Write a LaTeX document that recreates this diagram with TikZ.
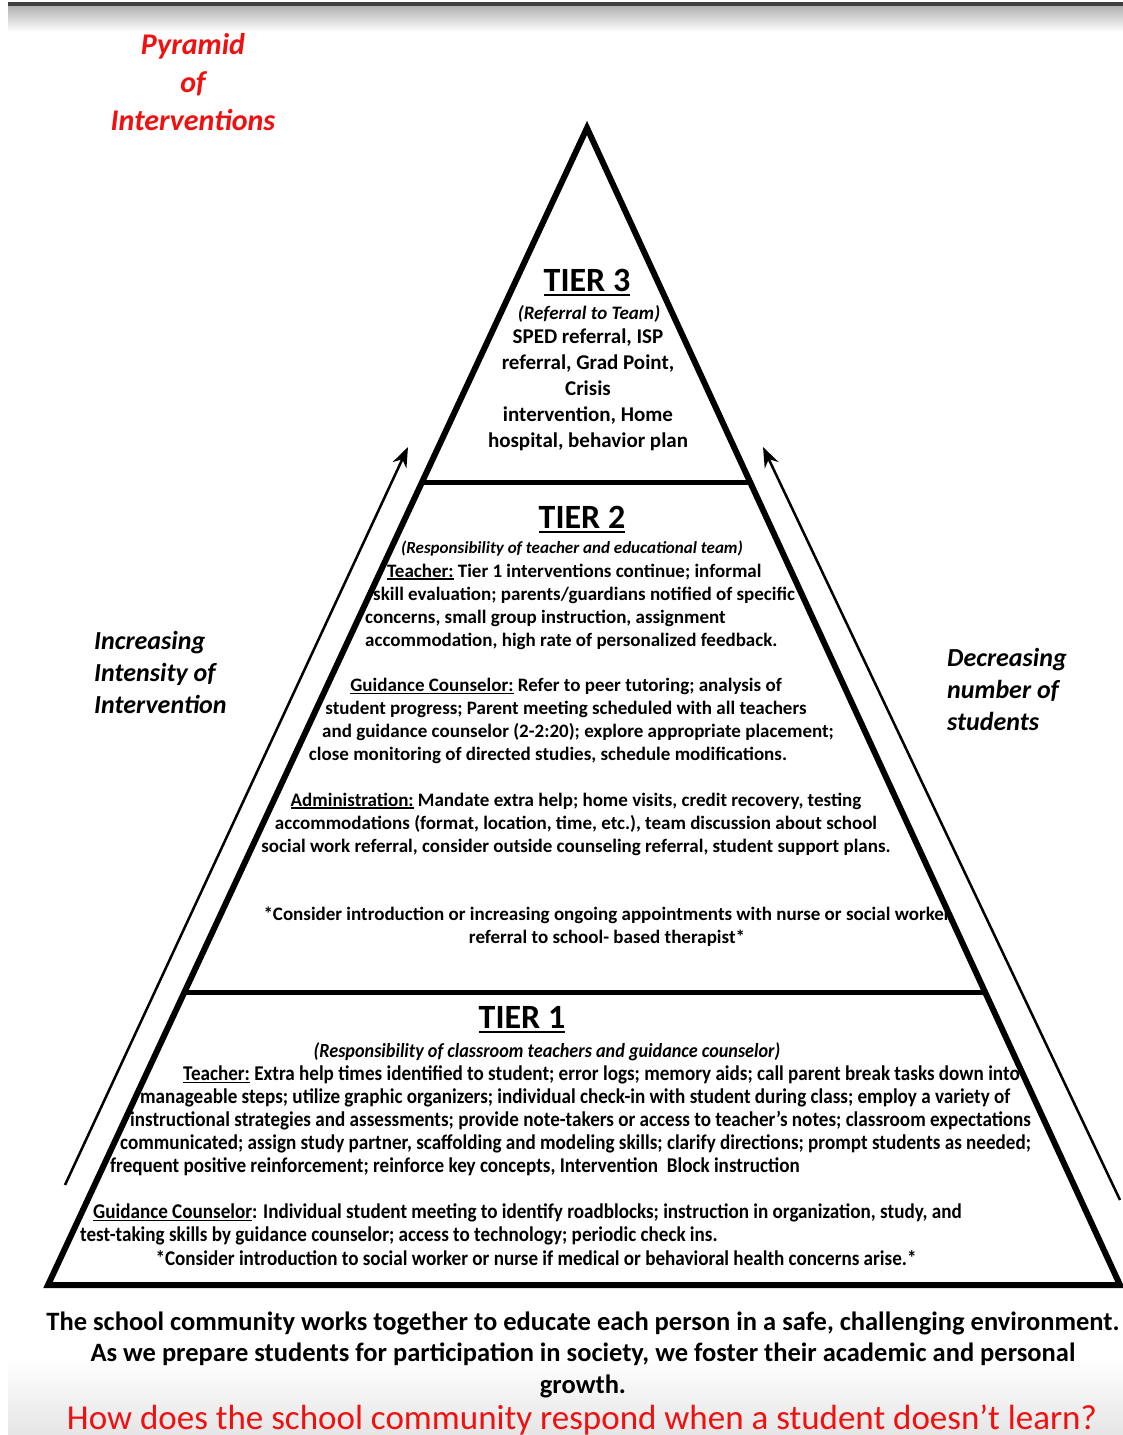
\documentclass[tikz,border=0pt]{standalone}
\usepackage{fontspec}
\setmainfont{Carlito}
\newfontfamily\narrowfont[FakeStretch=0.91]{Carlito}
\usetikzlibrary{arrows.meta,calc}
\definecolor{titlered}{RGB}{240,16,16}
% underline with a rule of its own thickness
\newcommand{\ulined}[2][0.06em]{\setbox0\hbox{#2}\rlap{\rule[-0.13em]{\wd0}{#1}}\box0\relax}

\begin{document}
\begin{tikzpicture}[x=1pt, y=-1pt, >=Stealth,
    every node/.style={inner sep=0pt},
    tierhead/.style={font=\fontsize{34}{40}\selectfont\bfseries},
    tiernote/.style={font=\fontsize{17}{20}\selectfont\bfseries\itshape},
    tiertext/.style={font=\fontsize{19}{23}\selectfont\bfseries, align=center},
    baseline text/.style={font=\narrowfont\fontsize{21}{23}\selectfont\bfseries, align=left},
    sidelabel/.style={font=\fontsize{26}{32}\selectfont\bfseries\itshape, align=left, anchor=west}]
    \useasboundingbox (0,0) rectangle (1123,1435);

    % Screen bands
    \fill[black!75] (8,2) rectangle (1123,6);
    \shade[top color=black!30, bottom color=white] (8,6) rectangle (1123,32);
    \shade[top color=white, bottom color=black!10] (8,1358) rectangle (1123,1435);

    % Title and side labels
    \node[font=\fontsize{30}{38}\selectfont\bfseries\itshape, align=center, text=titlered] (title) at (193,82.5) {Pyramid\\of\\Interventions};
    \node[sidelabel] (intensity) at (94,672) {Increasing\\Intensity of\\Intervention};
    \node[sidelabel] (fewer) at (947,689) {Decreasing\\number of\\students};

    % Tier 3
    \node[tierhead] (tier3) at (587,283) {\ulined[0.08em]{TIER 3}};
    \node[font=\fontsize{19}{23}\selectfont\bfseries\itshape] (tier3note) at (589,314) {(Referral to Team)};
    \node[font=\fontsize{21}{26}\selectfont\bfseries, align=center] (tier3text) at (588,390)
        {SPED referral, ISP\\referral, Grad Point,\\Crisis\\intervention, Home\\hospital, behavior plan};

    % Tier 2
    \node[tierhead] (tier2) at (582,520) {\ulined[0.08em]{TIER 2}};
    \node[tiernote] (tier2note) at (572,549) {(Responsibility of teacher and educational team)};
    \node[tiertext, align=left, anchor=west] (tier2teach) at (365,606.5)
        {\hspace*{22pt}\ulined{Teacher:} Tier 1 interventions continue; informal\\
         \hspace*{8pt}skill evaluation; parents/guardians notified of specific\\
         concerns, small group instruction, assignment\\
         accommodation, high rate of personalized feedback.};
    \node[tiertext] (tier2guide) at (566,721)
        {\ulined{Guidance Counselor:} Refer to peer tutoring; analysis of\\
         student progress; Parent meeting scheduled with all teachers\\
         \hspace*{24pt}and guidance counselor (2-2:20); explore appropriate placement;\\
         close monitoring of directed studies, schedule modifications.\hspace*{36pt}};
    \node[tiertext] (tier2admin) at (576,824)
        {\ulined{Administration:} Mandate extra help; home visits, credit recovery, testing\\
         accommodations (format, location, time, etc.), team discussion about school\\
         social work referral, consider outside counseling referral, student support plans.};
    \node[tiertext] (tier2star) at (607,926.5)
        {*Consider introduction or increasing ongoing appointments with nurse or social worker\\
         referral to school- based therapist*};

    % Tier 1
    \node[tierhead] (tier1) at (522,1020) {\ulined[0.08em]{TIER 1}};
    \node[font=\narrowfont\fontsize{20}{23}\selectfont\bfseries\itshape] (tier1note) at (547,1052)
        {(Responsibility of classroom teachers and guidance counselor)};
    \node[baseline text, anchor=west] (tier1teach) at (110,1121)
        {\hspace*{73pt}\ulined{Teacher:} Extra help times identified to student; error logs; memory aids; call parent break tasks down into\\
         \hspace*{30pt}manageable steps; utilize graphic organizers; individual check-in with student during class; employ a variety of\\
         \hspace*{20pt}instructional strategies and assessments; provide note-takers or access to teacher’s notes; classroom expectations\\
         \hspace*{10pt}communicated; assign study partner, scaffolding and modeling skills; clarify directions; prompt students as needed;\\
         frequent positive reinforcement; reinforce key concepts, Intervention\ \ Block instruction};
    \node[baseline text, anchor=west] (tier1guide) at (80,1224.5)
        {\hspace*{13pt}\ulined{Guidance Counselor}: Individual student meeting to identify roadblocks; instruction in organization, study, and\\
         test-taking skills by guidance counselor; access to technology; periodic check ins.};
    \node[baseline text] (tier1star) at (536,1258)
        {*Consider introduction to social worker or nurse if medical or behavioral health concerns arise.*};

    % Pyramid
    \coordinate (apex) at (587,128);
    \coordinate (baseL) at (48,1285);
    \coordinate (baseR) at (1120,1285);
    \coordinate (cut32L) at ($(apex)!0.306!(baseL)$);
    \coordinate (cut32R) at ($(apex)!0.306!(baseR)$);
    \coordinate (cut21L) at ($(apex)!0.7476!(baseL)$);
    \coordinate (cut21R) at ($(apex)!0.7476!(baseR)$);
    \draw[line width=6pt] (apex) -- (baseR) -- (baseL) -- cycle;
    \draw[line width=5pt] (cut32L) -- (cut32R);
    \draw[line width=5pt] (cut21L) -- (cut21R);

    % Arrows
    \coordinate (upL0) at (65,1185);
    \coordinate (upL1) at (408,447);
    \coordinate (upR0) at (1120,1200);
    \coordinate (upR1) at (763,447);
    \draw[-{Stealth[length=20pt,width=15pt]}, line width=2.5pt] (upL0) -- (upL1);
    \draw[-{Stealth[length=20pt,width=15pt]}, line width=2.5pt] (upR0) -- (upR1);

    % Mission
    \node[font=\fontsize{26.5}{31.5}\selectfont\bfseries, align=center] (mission) at (583,1354.5)
        {The school community works together to educate each person in a safe, challenging environment.\\
         As we prepare students for participation in society, we foster their academic and personal\\
         growth.};
    \node[font=\fontsize{35}{40}\selectfont, text=titlered] (question) at (582,1420)
        {How does the school community respond when a student doesn’t learn?};
\end{tikzpicture}
\end{document}
